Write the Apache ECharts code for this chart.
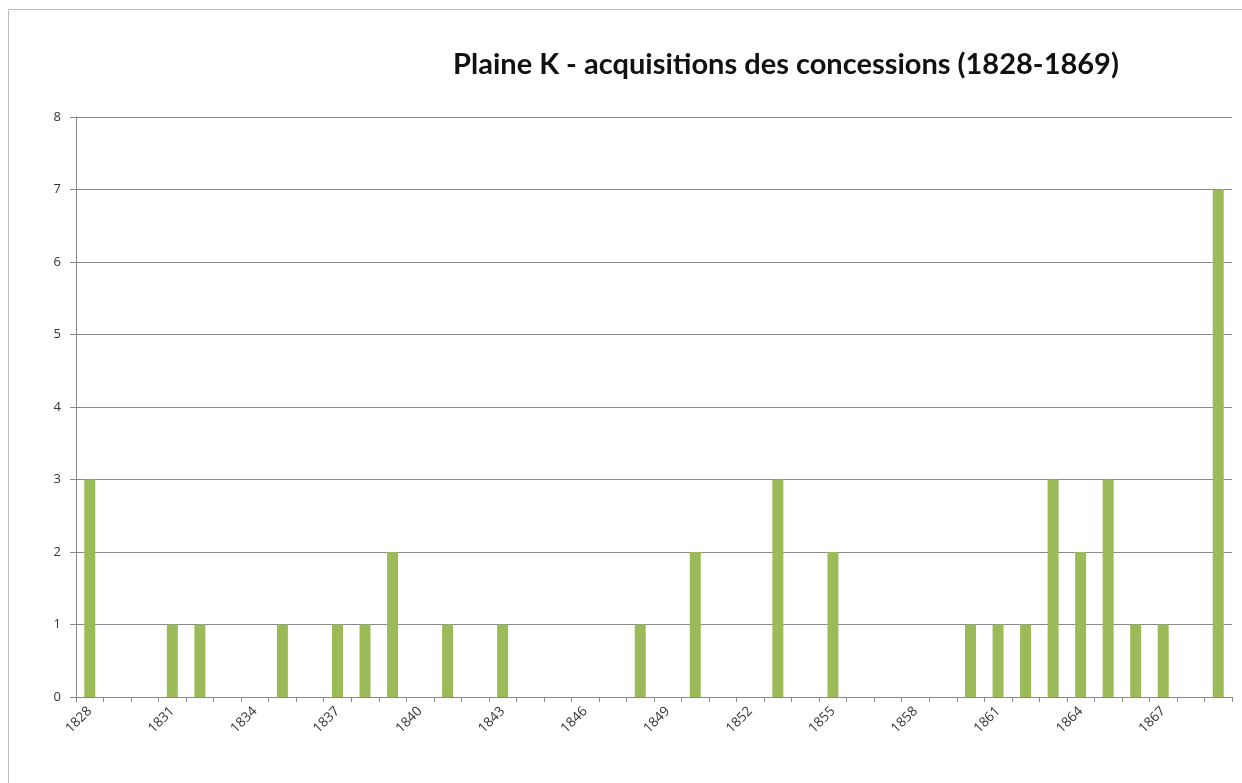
<!DOCTYPE html>
<html>
<head>
<meta charset="utf-8">
<script src="https://cdn.jsdelivr.net/npm/echarts@6/dist/echarts.min.js"></script>
<style>
  html, body { margin: 0; padding: 0; background: #fff; }
  #main { width: 1242px; height: 783px; }
</style>
</head>
<body>
<div id="main"></div>
<script>
// annees 1828 -> 1869
const years = ['1828', '1829', '1830', '1831', '1832', '1833', '1834', '1835', '1836', '1837',
  '1838', '1839', '1840', '1841', '1842', '1843', '1844', '1845', '1846', '1847',
  '1848', '1849', '1850', '1851', '1852', '1853', '1854', '1855', '1856', '1857',
  '1858', '1859', '1860', '1861', '1862', '1863', '1864', '1865', '1866', '1867',
  '1868', '1869']
// nombre de concessions acquises par annee
const acquisitions = [3, 0, 0, 1, 1, 0, 0, 1, 0, 1,
  1, 2, 0, 1, 0, 1, 0, 0, 0, 0,
  1, 0, 2, 0, 0, 3, 0, 2, 0, 0,
  0, 0, 1, 1, 1, 3, 2, 3, 1, 1,
  0, 7]
const yTicks = [0, 1, 2, 3, 4, 5, 6, 7, 8]

const myChart = echarts.init(document.getElementById('main'))
myChart.setOption({
  backgroundColor: '#fff',
  animation: false,
  title: {
    text: 'Plaine K - acquisitions des concessions (1828-1869)',
    left: 781,
    top: 45,
    textAlign: 'center',
    textStyle: {
      fontFamily: 'Lato',
      fontWeight: 'bold',
      fontSize: 29,
      color: '#111'
    }
  },
  // cadre autour du graphique
  graphic: [{
    type: 'rect',
    shape: { x: 8.5, y: 9.5, width: 1240, height: 780 },
    style: { fill: 'none', stroke: '#bdbdbd', lineWidth: 1 },
    silent: true
  }],
  grid: {
    left: 76,
    right: 10,
    top: 117,
    bottom: 86
  },
  xAxis: {
    type: 'category',
    data: years,
    axisLine: { lineStyle: { color: '#8a8a8a', width: 1 } },
    axisTick: { show: true, interval: 0, length: 5, lineStyle: { color: '#8a8a8a' } },
    axisLabel: {
      interval: 2,
      rotate: 45,
      fontFamily: 'Open Sans',
      fontSize: 13.5,
      color: '#333',
      margin: 12
    }
  },
  yAxis: {
    type: 'value',
    min: 0,
    max: 8,
    interval: 1,
    axisLine: { show: true, lineStyle: { color: '#8a8a8a', width: 1 } },
    axisTick: { show: true, length: 6, lineStyle: { color: '#8a8a8a' } },
    splitLine: { lineStyle: { color: '#8a8a8a', width: 1 } },
    axisLabel: {
      fontFamily: 'Open Sans',
      fontSize: 13,
      color: '#333',
      margin: 15,
      formatter: (v) => yTicks.includes(v) ? String(v) : ''
    }
  },
  series: [{
    name: 'acquisitions',
    type: 'bar',
    barWidth: 11,
    itemStyle: { color: '#9bbb59' },
    data: acquisitions
  }]
})
</script>
</body>
</html>
